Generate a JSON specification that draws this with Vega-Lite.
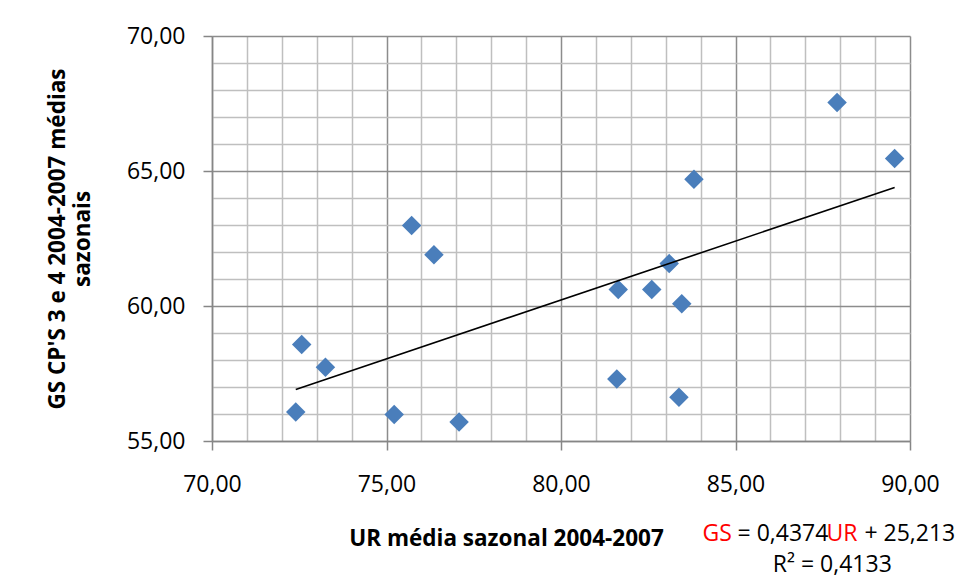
{
  "$schema": "https://vega.github.io/schema/vega-lite/v6.json",
  "width": 698,
  "height": 405,
  "autosize": {"type": "none"},
  "padding": {"left": 212, "top": 36, "right": 54, "bottom": 140},
  "background": "white",
  "config": {"font": "Open Sans", "view": {"stroke": null}},
  "datasets": {
    "points": [
      {"UR": 87.91, "GS": 67.54},
      {"UR": 89.56, "GS": 65.46},
      {"UR": 83.81, "GS": 64.69},
      {"UR": 75.72, "GS": 62.98},
      {"UR": 76.36, "GS": 61.90},
      {"UR": 83.10, "GS": 61.57},
      {"UR": 81.64, "GS": 60.61},
      {"UR": 82.60, "GS": 60.61},
      {"UR": 83.46, "GS": 60.08},
      {"UR": 81.60, "GS": 57.30},
      {"UR": 83.38, "GS": 56.62},
      {"UR": 72.57, "GS": 58.57},
      {"UR": 73.25, "GS": 57.73},
      {"UR": 72.40, "GS": 56.07},
      {"UR": 75.22, "GS": 55.98},
      {"UR": 77.08, "GS": 55.70}
    ]
  },
  "encoding": {
    "x": {
      "field": "UR", "type": "quantitative",
      "scale": {"domain": [70, 90], "nice": false, "zero": false},
      "axis": {
        "values": [70,71,72,73,74,75,76,77,78,79,80,81,82,83,84,84.04,85,85.043,86,87,87.593,87.76,88,88.68,89,90],
        "tickCount": 100,
        "labelExpr": "datum.value % 5 === 0 ? replace(format(datum.value, '.2f'), '.', ',') : (abs(datum.value - 84.04) < 0.005 ? 'GS' : (abs(datum.value - 85.043) < 0.005 ? '= 0,4374' : (abs(datum.value - 87.593) < 0.005 ? 'UR' : (abs(datum.value - 88.68) < 0.005 ? '+ 25,213' : (abs(datum.value - 87.76) < 0.005 ? 'R² = 0,4133' : '')))))",
        "labelFontSize": 23, "labelFlush": false, "labelOverlap": false,
        "labelPadding": {"condition": [
          {"test": "abs(datum.value - 87.76) < 0.005", "value": 103},
          {"test": "datum.value % 1 !== 0", "value": 72}
        ], "value": 23},
        "labelColor": {"condition": {"test": "abs(datum.value - 84.04) < 0.005 || abs(datum.value - 87.593) < 0.005", "value": "#FF0000"}, "value": "black"},
        "labelAlign": {"condition": {"test": "datum.value % 5 === 0 || abs(datum.value - 87.76) < 0.005", "value": "center"}, "value": "left"},
        "tickSize": 9, "tickWidth": 1.5, "tickColor": "#868686",
        "tickOpacity": {"condition": {"test": "datum.value % 5 === 0", "value": 1}, "value": 0},
        "domainColor": "#868686", "domainWidth": 1.5,
        "grid": true, "gridWidth": 1.5,
        "gridOpacity": {"condition": {"test": "datum.value % 1 === 0", "value": 1}, "value": 0},
        "gridColor": {"condition": {"test": "datum.value % 5 === 0", "value": "#8C8C8C"}, "value": "#BFBFBF"},
        "title": "UR média sazonal 2004-2007",
        "titleFontSize": 22.5, "titleFontWeight": "bold", "titleColor": "black",
        "titleX": 294, "titleY": 97, "titleAlign": "center", "titleBaseline": "middle"
      }
    },
    "y": {
      "field": "GS", "type": "quantitative",
      "scale": {"domain": [55, 70], "nice": false, "zero": false},
      "axis": {
        "values": [55,56,57,58,59,60,61,62,63,64,65,66,67,68,69,70],
        "tickCount": 100,
        "labelExpr": "datum.value % 5 === 0 ? replace(format(datum.value, '.2f'), '.', ',') : ''",
        "labelFontSize": 23, "labelColor": "black", "labelPadding": 18, "labelFlush": false, "labelOverlap": false,
        "tickSize": 9, "tickWidth": 1.5, "tickColor": "#868686",
        "tickOpacity": {"condition": {"test": "datum.value % 5 === 0", "value": 1}, "value": 0},
        "domainColor": "#868686", "domainWidth": 1.5,
        "grid": true, "gridWidth": 1.5, "gridOpacity": 1,
        "gridColor": {"condition": {"test": "datum.value % 5 === 0", "value": "#8C8C8C"}, "value": "#BFBFBF"},
        "title": ["GS CP'S 3 e 4 2004-2007 médias", "sazonais"],
        "titleFontSize": 22.5, "titleFontWeight": "bold", "titleColor": "black",
        "titleX": -155, "titleY": 202.5, "titleAngle": -90, "titleAlign": "center", "titleBaseline": "middle", "titleLineHeight": 25
      }
    }
  },
  "layer": [
    {
      "data": {"name": "points"},
      "mark": {"type": "point", "shape": "diamond", "filled": true, "size": 380, "color": "#4A7EBB", "opacity": 1}
    },
    {
      "data": {"name": "points"},
      "transform": [{"regression": "GS", "on": "UR"}],
      "mark": {"type": "line", "color": "black", "strokeWidth": 1.6}
    }
  ]
}
